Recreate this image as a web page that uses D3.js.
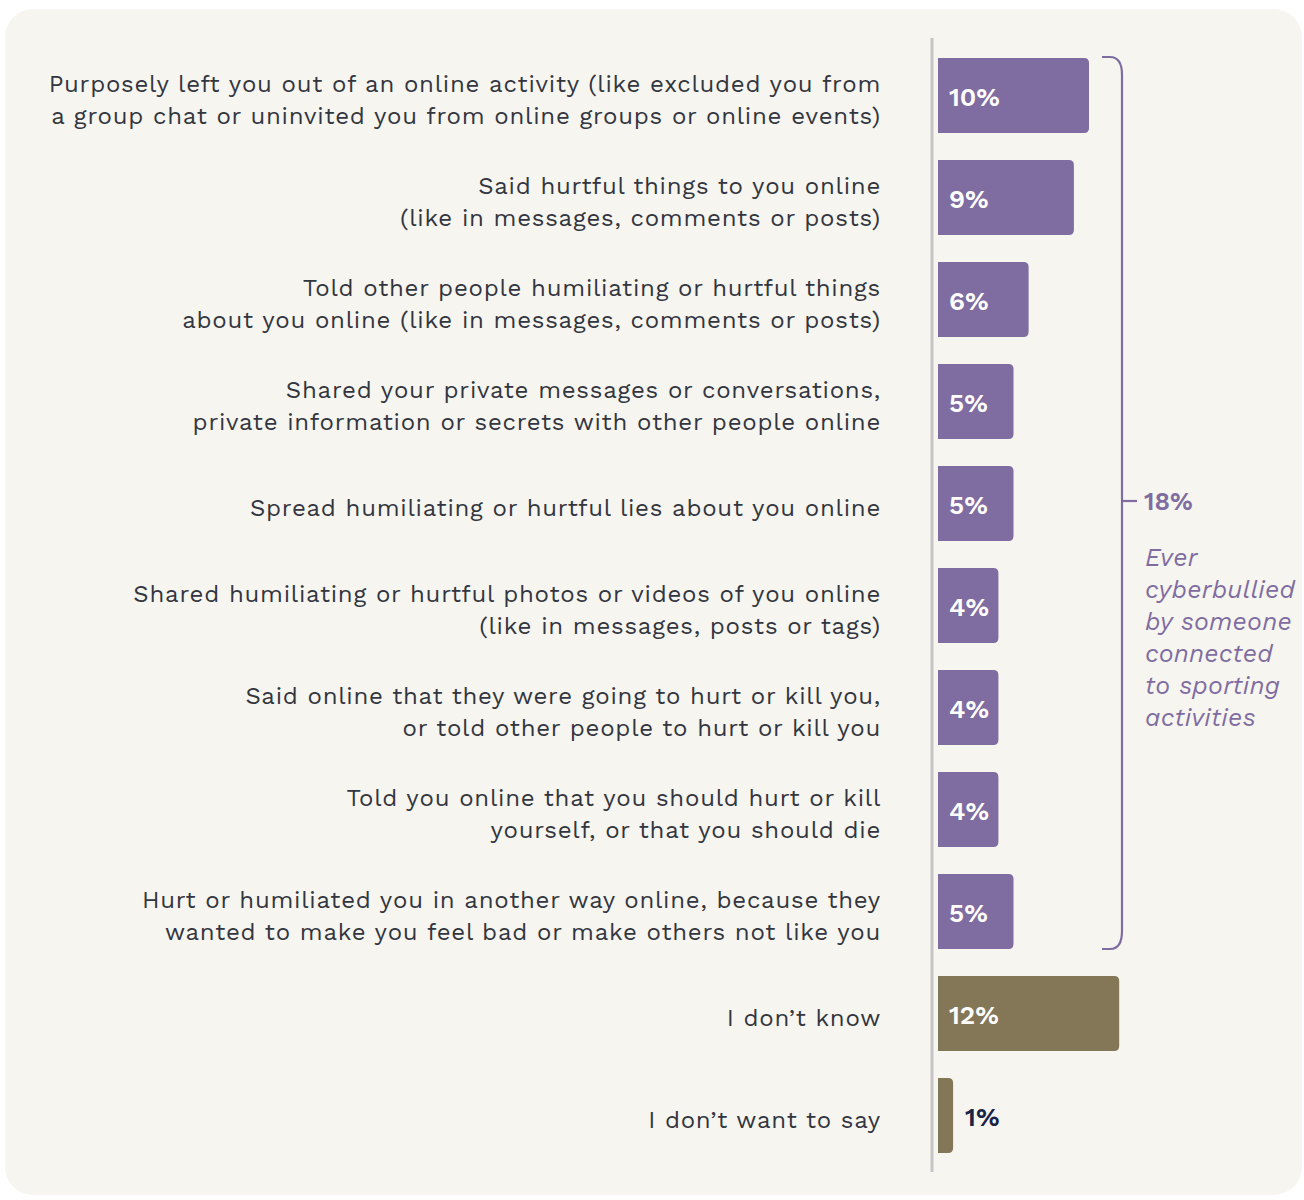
<!DOCTYPE html>
<html><head><meta charset="utf-8">
<script src="https://cdn.jsdelivr.net/npm/d3@7"></script>
<style>body{margin:0;background:#fff;}svg{display:block;}</style>
</head><body>
<svg id="c" width="1304" height="1200"></svg>
<script>
const categories = [
  ["Purposely left you out of an online activity (like excluded you from","a group chat or uninvited you from online groups or online events)"],
  ["Said hurtful things to you online","(like in messages, comments or posts)"],
  ["Told other people humiliating or hurtful things","about you online (like in messages, comments or posts)"],
  ["Shared your private messages or conversations,","private information or secrets with other people online"],
  ["Spread humiliating or hurtful lies about you online"],
  ["Shared humiliating or hurtful photos or videos of you online","(like in messages, posts or tags)"],
  ["Said online that they were going to hurt or kill you,","or told other people to hurt or kill you"],
  ["Told you online that you should hurt or kill","yourself, or that you should die"],
  ["Hurt or humiliated you in another way online, because they","wanted to make you feel bad or make others not like you"],
  ["I don\u2019t know"],
  ["I don\u2019t want to say"]
];
const values = [10, 9, 6, 5, 5, 4, 4, 4, 5, 12, 1];
const groups = ["cyber","cyber","cyber","cyber","cyber","cyber","cyber","cyber","cyber","other","other"];
const bracketValue = "18%";
const bracketText = ["Ever","cyberbullied","by someone","connected","to sporting","activities"];

const purple = "#7f6ca0", brown = "#837758";
const svg = d3.select("#c");
const font = "'Work Sans','Noto Sans','Open Sans',sans-serif";

svg.append("rect").attr("x",5).attr("y",9).attr("width",1297).attr("height",1186)
  .attr("rx",28).attr("fill","#f6f5f0");

const x0 = 938;
const x = d3.scaleLinear().domain([0,1]).range([0,15.1]);
const yb = d3.scaleBand().domain(d3.range(values.length))
  .range([58, 58+102*values.length-27]).paddingInner(27/102).paddingOuter(0);

const bw = yb.bandwidth();
const r = 5;
function barPath(w, y0, h){
  const rr = Math.min(r, w/2);
  return `M${x0},${y0}H${x0+w-rr}Q${x0+w},${y0} ${x0+w},${y0+rr}V${y0+h-rr}Q${x0+w},${y0+h} ${x0+w-rr},${y0+h}H${x0}Z`;
}
svg.selectAll("path.bar").data(values).join("path").attr("class","bar")
  .attr("d",(d,i)=>barPath(x(d), yb(i), bw))
  .attr("fill",(d,i)=>groups[i]==="cyber"?purple:brown);

// axis line
svg.append("line").attr("x1",932).attr("x2",932).attr("y1",38).attr("y2",1172)
  .attr("stroke","#c6c4c6").attr("stroke-width",3);

// value labels
svg.selectAll("text.val").data(values).join("text").attr("class","val")
  .attr("x",(d,i)=> x(d) < 40 ? x0 + x(d) + 12 : 949)
  .attr("y",(d,i)=>yb(i)+bw/2+10)
  .attr("font-family",font).attr("font-weight",600).attr("font-size",26)
  .attr("fill",(d,i)=> x(d) < 40 ? "#1a2446" : "#fff")
  .text(d=>d+"%");

// category labels
const lab = svg.selectAll("text.cat").data(categories).join("text").attr("class","cat")
  .attr("text-anchor","end").attr("font-family",font).attr("font-size",24)
  .attr("letter-spacing","0.75px").attr("fill","#33363f");
lab.each(function(lines,i){
  const t = d3.select(this);
  const cy = yb(i)+bw/2;
  const lh = 32;
  lines.forEach((l,j)=>{
    t.append("tspan").attr("x",881).attr("y", cy + (j-(lines.length-1)/2)*lh + 12).text(l);
  });
});

// bracket
const bTop = yb(0)-1, bBot = yb(8)+bw, bx = 1122, bMid = (bTop+bBot)/2 - 2;
svg.append("path").attr("fill","none").attr("stroke",purple).attr("stroke-width",2.2)
  .attr("d",`M1102,${bTop}H${bx-12}Q${bx},${bTop} ${bx},${bTop+18}V${bBot-18}Q${bx},${bBot} ${bx-12},${bBot}H1102`);
svg.append("line").attr("x1",bx).attr("x2",1137).attr("y1",bMid).attr("y2",bMid)
  .attr("stroke",purple).attr("stroke-width",2.2);
svg.append("text").attr("x",1144).attr("y",bMid+9).attr("font-family",font)
  .attr("font-weight",600).attr("font-size",25).attr("fill",purple).text(bracketValue);
svg.append("text").attr("font-family",font).attr("font-style","italic")
  .attr("font-size",25).attr("letter-spacing","0.3px").attr("fill",purple)
  .selectAll("tspan").data(bracketText).join("tspan")
  .attr("x",1145).attr("y",(d,j)=>566+j*32).text(d=>d);
</script>
</body></html>
